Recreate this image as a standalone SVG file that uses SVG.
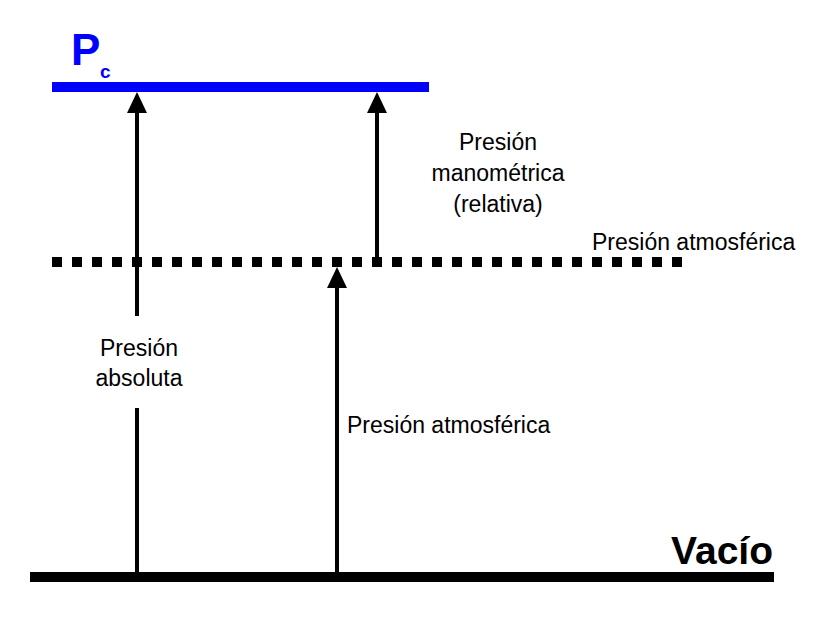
<svg xmlns="http://www.w3.org/2000/svg" width="838" height="622" viewBox="0 0 838 622">
<style>
.lbl{font-family:"Liberation Sans",Arial,sans-serif;font-size:23px;fill:#000}
.ar{stroke:#000;stroke-width:4;fill:none}
.hd{fill:#000}
</style>
<rect width="838" height="622" fill="#fff"/>
<g id="pc-level">
<rect x="52" y="82" width="377" height="10" fill="#0000ff"/>
<text x="71" y="65" font-family="Liberation Sans,Arial,sans-serif" font-weight="bold" font-size="44" fill="#0000ff">P</text>
<text x="100" y="78" font-family="Liberation Sans,Arial,sans-serif" font-weight="bold" font-size="19" fill="#0000ff">c</text>
</g>
<g id="atm-level">
<line x1="52" y1="262" x2="682" y2="262" stroke="#000" stroke-width="10" stroke-dasharray="10 10"/>
<text class="lbl" x="592" y="250">Presión atmosférica</text>
</g>
<g id="vacuum-level">
<rect x="30" y="572" width="744" height="10" fill="#000"/>
<text x="773" y="564" text-anchor="end" font-family="Liberation Sans,Arial,sans-serif" font-weight="bold" font-size="39" fill="#000">Vacío</text>
</g>
<g id="connectors">
<line class="ar" x1="137" y1="577" x2="137" y2="408"/>
<line class="ar" x1="137" y1="316" x2="137" y2="110"/>
<polygon class="hd" points="137,92 127,113 147,113"/>
<line class="ar" x1="377" y1="262" x2="377" y2="110"/>
<polygon class="hd" points="377,92 367,113 387,113"/>
<line class="ar" x1="337" y1="577" x2="337" y2="286"/>
<polygon class="hd" points="337,267 327,288 347,288"/>
</g>
<g id="label-absoluta">
<text class="lbl" x="139" y="356" text-anchor="middle">Presión</text>
<text class="lbl" x="139" y="386" text-anchor="middle">absoluta</text>
</g>
<g id="label-manometrica">
<text class="lbl" x="498" y="150" text-anchor="middle">Presión</text>
<text class="lbl" x="498" y="181" text-anchor="middle">manométrica</text>
<text class="lbl" x="498" y="212" text-anchor="middle">(relativa)</text>
</g>
<g id="label-atm">
<text class="lbl" x="347" y="433">Presión atmosférica</text>
</g>
</svg>
